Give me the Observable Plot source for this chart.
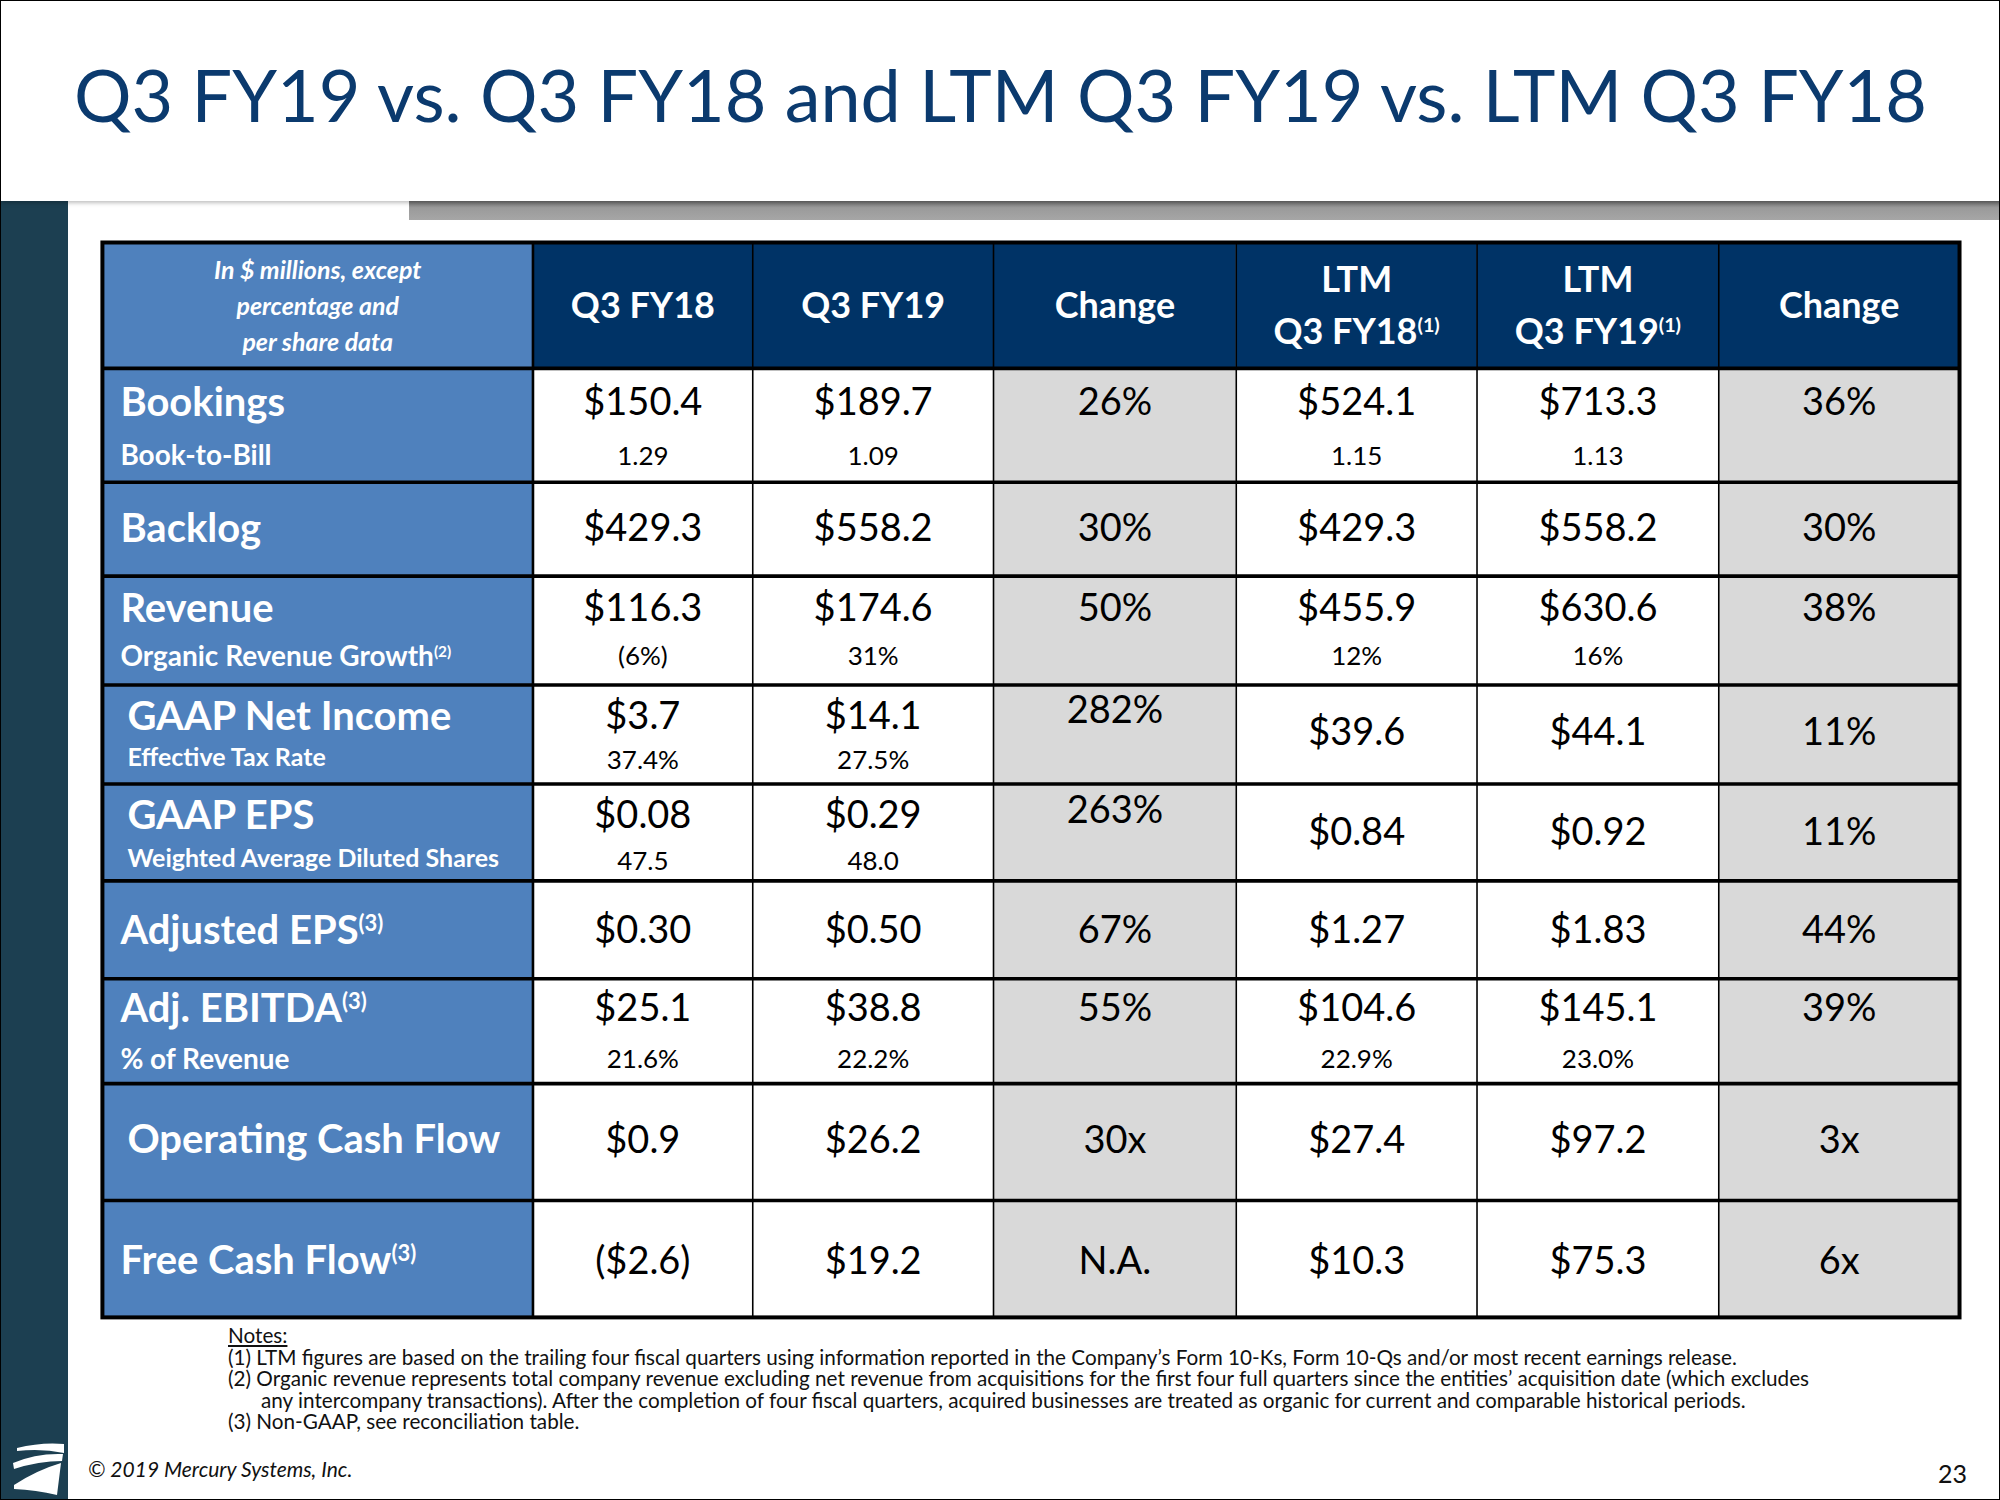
<!DOCTYPE html>
<html>
<head>
<meta charset="utf-8">
<script src="https://cdn.jsdelivr.net/npm/d3@7"></script>
<script src="https://cdn.jsdelivr.net/npm/@observablehq/plot@0.6"></script>
<style>
  html, body { margin: 0; padding: 0; background: #fff; }
  #slide { position: relative; width: 2000px; height: 1500px; overflow: hidden; background: #fff;
           font-family: Lato, "Open Sans", sans-serif; box-sizing: border-box; border: 1px solid #000; }
  #titleband { position: absolute; left: 0; top: 0; width: 2000px; height: 200px; background: #fff;
               box-shadow: 0 2px 4px rgba(0,0,0,0.25); z-index: 2; }
  #title { position: absolute; left: 73px; top: 93px; margin: 0; font-weight: 400; font-size: 72px;
           line-height: 0; color: #0B3A6E; white-space: nowrap; }
  #strip { position: absolute; left: 0; top: 200px; width: 67px; height: 1300px; background: #1C3F51; }
  #bar { position: absolute; left: 408px; top: 200px; width: 1592px; height: 19px;
         background: linear-gradient(to bottom, #6f6f6f 0%, #9a9a9a 35%, #a6a6a6 100%); }
  #chart { position: absolute; left: 0; top: 231px; }
  #notes { position: absolute; left: 227px; top: 1324px; font-size: 20.7px; line-height: 21.5px; color: #111; }
  #notes .h { text-decoration: underline; }
  #notes .n { padding-left: 33px; text-indent: -33px; white-space: pre-line; }
  #copy { position: absolute; left: 87px; top: 1455px; font-size: 21px; font-style: italic; color: #111; }
  #page { position: absolute; right: 32px; top: 1457px; font-size: 25px; color: #111; }
  #logo { position: absolute; left: 0; top: 1420px; }
</style>
</head>
<body>
<div id="slide">
  <div id="strip"></div>
  <div id="bar"></div>
  <div id="titleband"><h1 id="title"></h1></div>
  <div id="chart"></div>
  <div id="notes"></div>
  <div id="copy"></div>
  <div id="page"></div>
  <svg id="logo" width="70" height="80" viewBox="0 1420 70 80">
    <path d="M16,1447 Q40,1441 63,1443 L63,1452 Q40,1447 16,1450 Z" fill="#fff"/>
    <path d="M12,1462 Q35,1452 62,1453 L61,1460 Q38,1460 13,1468 Z" fill="#fff"/>
    <path d="M13,1484 Q36,1469 60,1462 L56,1494 Q35,1489 13,1488 Z" fill="#fff"/>
  </svg>
</div>
<script>
// ---------------- data ----------------
const slideTitle = "Q3 FY19 vs. Q3 FY18 and LTM Q3 FY19 vs. LTM Q3 FY18";
const columns = ["Q3 FY18", "Q3 FY19", "Change", "LTM\nQ3 FY18^(1)", "LTM\nQ3 FY19^(1)", "Change"];
const cornerNote = "In $ millions, except\npercentage and\nper share data";
const metrics = ["Bookings", "Backlog", "Revenue", "GAAP Net Income", "GAAP EPS",
                 "Adjusted EPS^(3)", "Adj. EBITDA^(3)", "Operating Cash Flow", "Free Cash Flow^(3)"];
const subMetrics = ["Book-to-Bill", "", "Organic Revenue Growth^(2)", "Effective Tax Rate",
                    "Weighted Average Diluted Shares", "", "% of Revenue", "", ""];
const q3fy18 = [150.4, 429.3, 116.3, 3.7, 0.08, 0.30, 25.1, 0.9, -2.6];
const q3fy19 = [189.7, 558.2, 174.6, 14.1, 0.29, 0.50, 38.8, 26.2, 19.2];
const ltmQ3fy18 = [524.1, 429.3, 455.9, 39.6, 0.84, 1.27, 104.6, 27.4, 10.3];
const ltmQ3fy19 = [713.3, 558.2, 630.6, 44.1, 0.92, 1.83, 145.1, 97.2, 75.3];
const decimals = [1, 1, 1, 1, 2, 2, 1, 1, 1];
const q3Change = ["26%", "30%", "50%", "282%", "263%", "67%", "55%", "30x", "N.A."];
const ltmChange = ["36%", "30%", "38%", "11%", "11%", "44%", "39%", "3x", "6x"];
const q3fy18Sub = ["1.29", "", "(6%)", "37.4%", "47.5", "", "21.6%", "", ""];
const q3fy19Sub = ["1.09", "", "31%", "27.5%", "48.0", "", "22.2%", "", ""];
const ltmQ3fy18Sub = ["1.15", "", "12%", "", "", "", "22.9%", "", ""];
const ltmQ3fy19Sub = ["1.13", "", "16%", "", "", "", "23.0%", "", ""];
const notesHeading = "Notes:";
const notes = [
  "(1) LTM figures are based on the trailing four fiscal quarters using information reported in the Company\u2019s Form 10-Ks, Form 10-Qs and/or most recent earnings release.",
  "(2) Organic revenue represents total company revenue excluding net revenue from acquisitions for the first four full quarters since the entities\u2019 acquisition date (which excludes\nany intercompany transactions). After the completion of four fiscal quarters, acquired businesses are treated as organic for current and comparable historical periods.",
  "(3) Non-GAAP, see reconciliation table."
];
const copyright = "\u00A9 2019 Mercury Systems, Inc.";
const pageNumber = "23";

// ---------------- layout (table units) ----------------
const colWidths = [431, 220, 241, 243, 241, 242, 241];
const rowHeights = [126, 114, 94, 109, 99, 97, 98, 105, 117, 117];
const mainDy   = [35, 47, 33, 32, 32, 50, 30, 57, 61];
const subDy    = [88, 0, 81, 73, 75, 0, 81, 0, 0];
const changeDy = [35, 47, 33, 26, 27, 50, 30, 57, 61];
const ltmDy    = [35, 47, 33, 48, 49, 50, 30, 57, 61];
const labelIndent = [18, 18, 18, 25, 25, 18, 18, 25, 18];
const subLabelSize = [28, 0, 28, 25, 25, 0, 28, 0, 0];
const FONT = "Lato, 'Open Sans', sans-serif";
const C = { label: "#4F81BD", header: "#003366", change: "#D9D9D9", value: "#FFFFFF" };

// ---------------- static text ----------------
const titleEl = document.getElementById("title");
titleEl.textContent = slideTitle;
(function fitTitle() {
  const ctx = document.createElement("canvas").getContext("2d");
  ctx.font = "400 72px Lato";
  const w = ctx.measureText(slideTitle).width;
  const target = 1857;
  if (w > 0) titleEl.style.fontSize = Math.min(80, 72 * target / w).toFixed(2) + "px";
})();
document.getElementById("copy").textContent = copyright;
document.getElementById("page").textContent = pageNumber;
const notesDiv = document.getElementById("notes");
const nh = document.createElement("div"); nh.className = "h"; nh.textContent = notesHeading; notesDiv.appendChild(nh);
notes.forEach(n => { const d = document.createElement("div"); d.className = "n"; d.textContent = n; notesDiv.appendChild(d); });

// ---------------- table geometry ----------------
const colEdges = Array.from(d3.cumsum([0, ...colWidths]));
const rowEdges = Array.from(d3.cumsum([0, ...rowHeights]));
const totalW = colEdges[colEdges.length - 1];
const totalH = rowEdges[rowEdges.length - 1];
const colMid = i => (colEdges[i] + colEdges[i + 1]) / 2;

const cells = [];
for (let r = 0; r < rowHeights.length; r++) {
  for (let c = 0; c < colWidths.length; c++) {
    const kind = c === 0 ? "label" : r === 0 ? "header" : (c === 3 || c === 6) ? "change" : "value";
    cells.push({ x1: colEdges[c], x2: colEdges[c + 1], y1: rowEdges[r], y2: rowEdges[r + 1], kind });
  }
}

const fmtMoney = (v, d) => v < 0 ? `($${(-v).toFixed(d)})` : `$${v.toFixed(d)}`;

const headerTexts = columns.map((t, i) => ({ x: colMid(i + 1), y: rowEdges[0] + 59, text: t }));
const cornerTexts = [{ x: colMid(0), y: rowEdges[0] + 61, text: cornerNote }];
const labelTexts = metrics.map((t, i) => ({ x: labelIndent[i], y: rowEdges[i + 1] + mainDy[i], text: t }));
const subLabelTexts = subMetrics.map((t, i) => ({ x: labelIndent[i], y: rowEdges[i + 1] + subDy[i], text: t, size: subLabelSize[i] }))
  .filter(d => d.text);

const mainTexts = [], subTexts = [];
metrics.forEach((_, i) => {
  const top = rowEdges[i + 1];
  mainTexts.push({ x: colMid(1), y: top + mainDy[i], text: fmtMoney(q3fy18[i], decimals[i]) });
  mainTexts.push({ x: colMid(2), y: top + mainDy[i], text: fmtMoney(q3fy19[i], decimals[i]) });
  mainTexts.push({ x: colMid(3), y: top + changeDy[i], text: q3Change[i] });
  mainTexts.push({ x: colMid(4), y: top + ltmDy[i], text: fmtMoney(ltmQ3fy18[i], decimals[i]) });
  mainTexts.push({ x: colMid(5), y: top + ltmDy[i], text: fmtMoney(ltmQ3fy19[i], decimals[i]) });
  mainTexts.push({ x: colMid(6), y: top + ltmDy[i], text: ltmChange[i] });
  [[1, q3fy18Sub], [2, q3fy19Sub], [4, ltmQ3fy18Sub], [5, ltmQ3fy19Sub]].forEach(([c, arr]) => {
    if (arr[i]) subTexts.push({ x: colMid(c), y: top + subDy[i] + ((i === 3 || i === 4) ? 3 : 0), text: arr[i] });
  });
});

const rectOf = kind => Plot.rect(cells.filter(d => d.kind === kind), { x1: "x1", x2: "x2", y1: "y1", y2: "y2", fill: C[kind] });

const chart = Plot.plot({
  width: 2000,
  height: 1096,
  marginLeft: 101, marginRight: 40, marginTop: 10, marginBottom: 10,
  style: { background: "transparent", overflow: "visible" },
  x: { type: "linear", domain: [0, totalW], axis: null },
  y: { type: "linear", domain: [0, totalH], reverse: true, axis: null },
  marks: [
    rectOf("label"), rectOf("header"), rectOf("change"), rectOf("value"),
    Plot.ruleX(colEdges.slice(2, -1), { stroke: "#000", strokeWidth: 1.6 }),
    Plot.ruleX([colEdges[1]], { stroke: "#000", strokeWidth: 2.6 }),
    Plot.ruleY(rowEdges.slice(1, -1), { stroke: "#000", strokeWidth: 3.6 }),
    Plot.frame({ stroke: "#000", strokeWidth: 4 }),
    Plot.text(cornerTexts, { x: "x", y: "y", text: "text", fill: "#fff", fontSize: 25, fontWeight: "bold",
      fontStyle: "italic", fontFamily: FONT, lineHeight: 1.44, textAnchor: "middle" }),
    Plot.text(headerTexts, { x: "x", y: "y", text: "text", fill: "#fff", fontSize: 36, fontWeight: "bold",
      fontFamily: FONT, lineHeight: 1.44, textAnchor: "middle" }),
    Plot.text(labelTexts, { x: "x", y: "y", text: "text", fill: "#fff", fontSize: 40, fontWeight: "bold",
      fontFamily: FONT, textAnchor: "start" }),
    Plot.text(subLabelTexts, { x: "x", y: "y", text: "text", fill: "#fff", fontSize: d => d.size, fontWeight: "bold",
      fontFamily: FONT, textAnchor: "start" }),
    Plot.text(mainTexts, { x: "x", y: "y", text: "text", fill: "#000", fontSize: 38, fontFamily: FONT, textAnchor: "middle" }),
    Plot.text(subTexts, { x: "x", y: "y", text: "text", fill: "#000", fontSize: 26, fontFamily: FONT, textAnchor: "middle" })
  ]
});

// superscript markers "^(n)" -> real superscript tspans
chart.querySelectorAll("text, tspan").forEach(el => {
  Array.from(el.childNodes).forEach(node => {
    if (node.nodeType === 3 && node.nodeValue.includes("^")) {
      const [base, sup] = node.nodeValue.split("^");
      node.nodeValue = base;
      const t = document.createElementNS("http://www.w3.org/2000/svg", "tspan");
      t.textContent = sup;
      t.setAttribute("font-size", "0.55em");
      t.setAttribute("baseline-shift", "super");
      el.insertBefore(t, node.nextSibling);
    }
  });
});

document.getElementById("chart").appendChild(chart);
</script>
</body>
</html>
